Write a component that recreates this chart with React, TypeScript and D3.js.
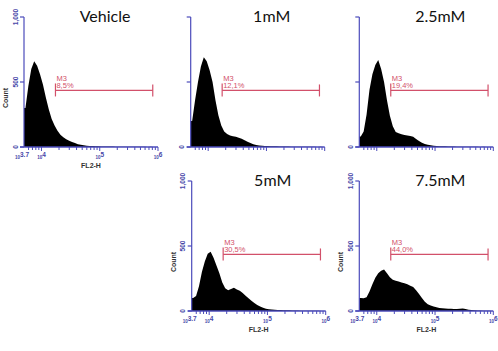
import React from 'react'
import * as d3 from 'd3'

// FL2-H histograms, bins of 0.05 decade from 10^3.7 to 10^6
const vehicleCounts = [300, 470, 600, 660, 625, 560, 480, 380, 290, 215, 165, 125, 95, 75, 60, 48, 38, 30, 22, 17, 13, 10, 8, 7, 6, 5, 4, 4, 3, 3, 3, 2, 2, 2, 2, 1, 1, 1, 1, 1, 1, 1, 0, 1, 0, 0]
const mM1Counts = [200, 360, 500, 620, 690, 660, 590, 500, 360, 245, 165, 120, 100, 88, 82, 78, 72, 64, 52, 40, 30, 21, 15, 11, 9, 8, 7, 6, 6, 5, 4, 4, 3, 3, 2, 2, 2, 1, 2, 1, 1, 1, 1, 0, 1, 0]
const mM25Counts = [80, 120, 250, 440, 560, 630, 670, 600, 500, 360, 240, 160, 115, 105, 98, 92, 88, 84, 78, 62, 46, 33, 24, 17, 13, 10, 8, 6, 5, 5, 4, 3, 3, 2, 2, 2, 1, 1, 1, 1, 1, 0, 1, 0, 0, 0]
const mM5Counts = [100, 115, 190, 300, 380, 440, 455, 410, 350, 290, 220, 175, 160, 170, 178, 165, 155, 138, 118, 98, 78, 62, 47, 35, 25, 18, 14, 11, 9, 8, 7, 6, 5, 5, 4, 3, 3, 2, 2, 2, 1, 1, 1, 1, 0, 0]
const mM75Counts = [100, 98, 105, 150, 205, 255, 290, 310, 320, 290, 260, 240, 232, 226, 220, 214, 205, 195, 185, 160, 130, 100, 72, 52, 42, 34, 28, 24, 21, 19, 18, 17, 16, 16, 18, 19, 15, 10, 7, 5, 4, 3, 2, 1, 1, 0]

const panelTitles = ['Vehicle', '1mM', '2.5mM', '5mM', '7.5mM']
const gatePercents = ['8,5%', '12,1%', '19,4%', '30,5%', '44,0%']
const gateName = 'M3'
const gateLog = [4.24, 5.91]
const gateCount = 435
const yTicks = [0, 500, 1000]
const yTickLabels = ['0', '500', '1,000']
const xLabelExps = [3.7, 4, 5, 6]
const xLabelTexts = ['3.7', '4', '5', '6']

const allCounts = [vehicleCounts, mM1Counts, mM25Counts, mM5Counts, mM75Counts]

const W = 498
const H = 351
const PW = 134
const PH = 130
const LOG0 = 3.7
const BIN = 0.05

const panels = [
  { x0: 24, y0: 147, yLabels: 'all', xLabels: true },
  { x0: 190.7, y0: 147, yLabels: 'zero', xLabels: false },
  { x0: 359.3, y0: 147, yLabels: 'zero', xLabels: false },
  { x0: 191.7, y0: 311, yLabels: 'all', xLabels: true },
  { x0: 359.3, y0: 311, yLabels: 'all', xLabels: true },
]

const axisColor = '#4b4bbb'
const labelColor = '#4646a8'
const gateColor = '#d2506a'

function Panel({ idx }: { idx: number }) {
  const p = panels[idx]
  const counts = allCounts[idx]
  const x = d3.scaleLog().domain([Math.pow(10, LOG0), 1e6]).range([p.x0, p.x0 + PW])
  const y = d3.scaleLinear().domain([0, 1000]).range([p.y0, p.y0 - PH])

  // points at bin centres, closed with a vertical edge at the axis start
  const pts: [number, number][] = counts.map((c, i) => [Math.pow(10, LOG0 + BIN * (i + 0.5)), c])
  pts.unshift([Math.pow(10, LOG0), counts[0]])
  pts.push([1e6, counts[counts.length - 1]])
  const area = d3.area<[number, number]>()
    .x(d => x(d[0]))
    .y0(y(0))
    .y1(d => y(d[1]))
    .curve(d3.curveLinear)

  const minor: number[] = []
  for (let e = 3; e < 6; e++) {
    for (let m = 1; m < 10; m++) {
      const v = m * Math.pow(10, e)
      if (v >= Math.pow(10, LOG0) - 1 && v <= 1e6) minor.push(v)
    }
  }
  minor.push(1e6)

  const gx1 = x(Math.pow(10, gateLog[0]))
  const gx2 = x(Math.pow(10, gateLog[1]))
  const gy = y(gateCount)

  const titleY = p.y0 - PH + 5

  return (
    <g>
      <text x={p.x0 + 81} y={titleY} textAnchor="middle" fontFamily="Lato" fontSize={16} fill="#111">{panelTitles[idx]}</text>
      <path d={area(pts) || ''} fill="#000" />
      {/* axes */}
      <line x1={p.x0} x2={p.x0} y1={p.y0} y2={p.y0 - PH} stroke={axisColor} strokeWidth={1.2} />
      <line x1={p.x0 - 4} x2={p.x0 + PW} y1={p.y0} y2={p.y0} stroke={axisColor} strokeWidth={1.4} />
      {yTicks.map(t => (
        <line key={t} x1={p.x0 - 4} x2={p.x0} y1={y(t)} y2={y(t)} stroke={axisColor} strokeWidth={1.2} />
      ))}
      {minor.map((v, i) => {
        const lg = Math.log10(v)
        const major = Math.abs(lg - Math.round(lg)) < 1e-6
        return <line key={i} x1={x(v)} x2={x(v)} y1={p.y0} y2={p.y0 + (major ? 4 : 3)} stroke={axisColor} strokeWidth={1} />
      })}
      {yTicks.map((t, i) => (p.yLabels === 'all' || t === 0) && (
        <text key={t} transform={`translate(${p.x0 - 6.5},${y(t)}) rotate(-90)`} textAnchor="middle"
          fontFamily="Liberation Sans" fontWeight="bold" fontSize={6.5} fill={labelColor}>{yTickLabels[i]}</text>
      ))}
      {p.yLabels === 'all' && (
        <text transform={`translate(${p.x0 - 16},${p.y0 - 49}) rotate(-90)`} textAnchor="middle"
          fontFamily="Liberation Sans" fontWeight="bold" fontSize={7} fill="#333">Count</text>
      )}
      {p.xLabels && xLabelExps.map((e, i) => (
        <text key={e} x={x(Math.pow(10, e)) - (i === 0 ? 2 : 0)} y={p.y0 + 11} textAnchor="middle"
          fontFamily="Liberation Sans" fontWeight="bold" fill={labelColor}>
          <tspan fontSize={4.5} dy={1}>10</tspan>
          <tspan fontSize={6.5} dy={-2}>{xLabelTexts[i]}</tspan>
        </text>
      ))}
      {p.xLabels && (
        <text x={p.x0 + PW / 2} y={p.y0 + 21} textAnchor="middle" fontFamily="Liberation Sans"
          fontWeight="bold" fontSize={7} fill="#333">FL2-H</text>
      )}
      {/* gate marker */}
      <line x1={gx1} x2={gx2} y1={gy} y2={gy} stroke={gateColor} strokeWidth={1.2} />
      <line x1={gx1} x2={gx1} y1={gy - 7} y2={gy + 6} stroke={gateColor} strokeWidth={1.2} />
      <line x1={gx2} x2={gx2} y1={gy - 6} y2={gy + 6} stroke={gateColor} strokeWidth={1.2} />
      <text x={gx1 + 1} y={gy - 9.5} fontFamily="Liberation Sans" fontSize={7.5} fill={gateColor}>{gateName}</text>
      <text x={gx1 + 1} y={gy - 2} fontFamily="Liberation Sans" fontSize={7.5} fill={gateColor}>{gatePercents[idx]}</text>
    </g>
  )
}

export default function App() {
  return (
    <svg width={W} height={H} style={{ position: 'absolute', left: 0, top: 0, background: '#fff' }}>
      {panels.map((_, i) => <Panel key={i} idx={i} />)}
    </svg>
  )
}
